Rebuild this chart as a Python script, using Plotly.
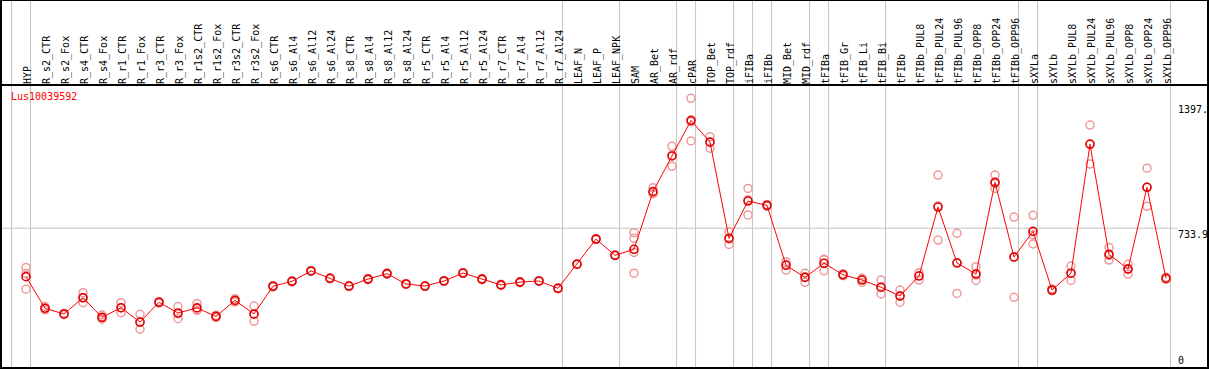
import plotly.graph_objects as go

categories = ["HYP", "R_s2_CTR", "R_s2_Fox", "R_s4_CTR", "R_s4_Fox", "R_r1_CTR", "R_r1_Fox",
              "R_r3_CTR", "R_r3_Fox", "R_r1s2_CTR", "R_r1s2_Fox", "R_r3s2_CTR", "R_r3s2_Fox",
              "R_s6_CTR", "R_s6_Al4", "R_s6_Al12", "R_s6_Al24", "R_s8_CTR", "R_s8_Al4", "R_s8_Al12",
              "R_s8_Al24", "R_r5_CTR", "R_r5_Al4", "R_r5_Al12", "R_r5_Al24", "R_r7_CTR", "R_r7_Al4",
              "R_r7_Al12", "R_r7_Al24", "LEAF_N", "LEAF_P", "LEAF_NPK", "SAM", "AR_Bet", "AR_rdf",
              "cPAR", "TOP_Bet", "TOP_rdf", "iFIBa", "iFIBb", "MID_Bet", "MID_rdf", "tFIBa",
              "tFIB_Gr", "tFIB_Li", "tFIB_Bi", "tFIBb", "tFIBb_PUL8", "tFIBb_PUL24", "tFIBb_PUL96",
              "tFIBb_OPP8", "tFIBb_OPP24", "tFIBb_OPP96", "sXYLa", "sXYLb", "sXYLb_PUL8",
              "sXYLb_PUL24", "sXYLb_PUL96", "sXYLb_OPP8", "sXYLb_OPP24", "sXYLb_OPP96"]

mean_values = [477, 309, 279, 365, 261, 312, 236, 341, 284, 311, 266, 351, 279,
               426, 452, 507, 468, 427, 464, 493, 438, 427, 454, 496, 464, 433, 448, 454, 415,
               543, 676, 590, 622, 928, 1117, 1306, 1190, 680, 878, 855, 537, 473, 548,
               487, 459, 421, 374, 480, 846, 549, 491, 977, 581, 717, 406, 495, 1179, 595,
               517, 951, 468]

rep_a = [526, 318, 283, 392, 273, 339, 277, 345, 318, 335, 272, 360, 321,
         430, 455, 510, 471, 430, 467, 496, 441, 430, 457, 499, 467, 436, 451, 457, 418,
         545, 678, 592, 710, 949, 1168, 1423, 1219, 715, 945, 860, 556, 495, 569,
         492, 468, 459, 406, 498, 1016, 707, 530, 1016, 793, 802, 412, 533, 1281, 631,
         542, 1052, 474]
rep_b = [494, 309, 279, 365, 259, 311, 233, 341, 280, 298, 266, 351, 276,
         426, 452, 507, 468, 427, 464, 493, 438, 427, 454, 496, 464, 433, 448, 454, 415,
         543, 676, 590, 680, 918, 1121, 1298, 1193, 677, 885, 855, 543, 477, 567,
         487, 463, 420, 375, 483, 851, 552, 486, 970, 583, 699, 404, 495, 1182, 589,
         520, 951, 468]
rep_c = [410, 300, 275, 339, 251, 286, 198, 337, 254, 300, 260, 342, 240,
         422, 449, 504, 465, 424, 461, 490, 435, 424, 451, 493, 461, 430, 445, 451, 412,
         541, 674, 588, 605, 917, 1062, 1197, 1158, 648, 804, 850, 512, 447, 508,
         482, 446, 385, 341, 459, 671, 388, 457, 945, 367, 650, 402, 457, 1074, 565,
         489, 850, 462]
rep_d = [None] * 32 + [495] + [None] * 28

group_ends = [-1, 0, 28, 31, 34, 35, 37, 38, 39, 41, 42, 45, 52, 53, 60]

ytick_values = [1397, 733.9, 0]
ytick_text = ["1397.", "733.9", "0"]

gene_name = "Lus10039592"

x_idx = list(range(len(categories)))

W, H = 1209, 370
ML, MR, MT, MB = 1, 1, 85, 2
plot_h = H - MT - MB
top_paper = 1 + MT / plot_h

MONO = "DejaVu Sans Mono"
REP_COLOR = "#ee9a9a"
MAIN_COLOR = "#ff0000"

fig = go.Figure()

for reps in (rep_a, rep_b, rep_c, rep_d):
    xs = [x for x, v in zip(x_idx, reps) if v is not None]
    ys = [v for v in reps if v is not None]
    fig.add_trace(go.Scatter(
        x=xs, y=ys, mode="markers",
        marker=dict(symbol="circle-open", size=8, color=REP_COLOR, line=dict(width=1.5, color=REP_COLOR)),
        hoverinfo="skip", showlegend=False))

fig.add_trace(go.Scatter(
    x=x_idx, y=mean_values, mode="lines+markers",
    line=dict(color=MAIN_COLOR, width=1),
    marker=dict(symbol="circle-open", size=8, color="#e00000", line=dict(width=1.6, color="#e00000")),
    showlegend=False))

shapes = []
for g in group_ends:
    shapes.append(dict(type="line", xref="x", yref="paper", x0=g + 0.24, x1=g + 0.24,
                       y0=0, y1=top_paper, line=dict(color="#c4c4c4", width=1), layer="below"))
# horizontal grid line at middle tick
x_grid_end = (1177 - ML) / (W - ML - MR)
shapes.append(dict(type="line", xref="paper", yref="y", x0=0, x1=x_grid_end,
                   y0=ytick_values[1], y1=ytick_values[1], line=dict(color="#c4c4c4", width=1), layer="below"))
# frame
shapes.append(dict(type="rect", xref="paper", yref="paper", x0=0, x1=1, y0=0, y1=top_paper,
                   line=dict(color="black", width=2)))
shapes.append(dict(type="line", xref="paper", yref="paper", x0=0, x1=1, y0=1, y1=1,
                   line=dict(color="black", width=2)))

annotations = [dict(text=gene_name, xref="paper", yref="paper", x=(9 - ML) / (W - ML - MR),
                    y=(H - MB - 97) / plot_h, xanchor="left", yanchor="middle", showarrow=False,
                    font=dict(family=MONO, size=10, color="red"))]
for v, t in zip(ytick_values, ytick_text):
    annotations.append(dict(text=t, xref="paper", yref="y", x=x_grid_end, y=v,
                            xanchor="left", yanchor="bottom" if v == 0 else "top",
                            showarrow=False, borderpad=0,
                            font=dict(family=MONO, size=10, color="black")))

fig.update_layout(
    width=W, height=H,
    margin=dict(l=ML, r=MR, t=MT, b=MB, pad=0, autoexpand=False),
    paper_bgcolor="white", plot_bgcolor="white",
    xaxis=dict(range=[-1.3158, 62.21], side="top", tickmode="array", tickvals=x_idx,
               ticktext=categories, tickangle=-90, ticks="", showgrid=False, zeroline=False,
               showline=False, automargin=False, ticklabelshift=2,
               tickfont=dict(family=MONO, size=10, color="black")),
    yaxis=dict(range=[-7.7, 1493.5], showgrid=False, zeroline=False, showticklabels=False,
               showline=False, ticks="", automargin=False),
    shapes=shapes, annotations=annotations,
)

fig.write_html("out.html",
               config={"displayModeBar": False},
               post_script="document.body.style.margin='0';document.body.style.padding='0';"
                           "document.body.style.overflow='hidden';")
